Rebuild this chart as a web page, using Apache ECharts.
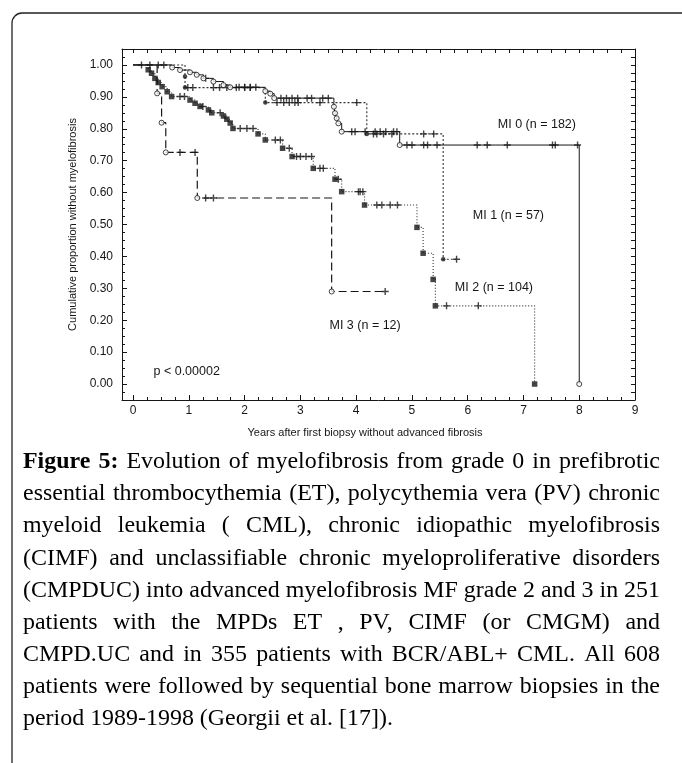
<!DOCTYPE html>
<html>
<head>
<meta charset="utf-8">
<script src="https://cdn.jsdelivr.net/npm/echarts@6/dist/echarts.min.js"></script>
<style>
html,body{margin:0;padding:0;background:#fff}
#chart{width:682px;height:763px}
</style>
</head>
<body>
<div id="chart"></div>
<script>
// Kaplan-Meier steps: event times (years) and the level after each event
var mi0EventX = [0.70, 0.84, 1.02, 1.14, 1.26, 1.44, 1.62, 1.74, 2.37, 2.46, 2.53, 3.60, 3.62, 3.65, 3.68, 3.74, 4.78, 8.00]
var mi0EventY = [0.992, 0.984, 0.977, 0.969, 0.958, 0.948, 0.937, 0.930, 0.918, 0.910, 0.896, 0.869, 0.849, 0.833, 0.817, 0.791, 0.749, 0.0]
var mi0CensorX = [0.15, 0.30, 0.45, 0.55, 1.30, 1.90, 2.00, 2.10, 2.20, 2.65, 2.75, 2.85, 2.95, 3.12, 3.20, 3.40, 3.50, 3.92, 3.98, 4.16, 4.34, 4.43, 4.53, 4.67, 4.73, 4.91, 5.00, 5.21, 5.28, 5.45, 6.17, 6.35, 6.71, 7.52, 7.57, 7.97]

var mi1EventX = [0.93, 0.93, 2.37, 4.19, 5.56]
var mi1EventY = [0.964, 0.929, 0.882, 0.784, 0.391]
var mi1CensorX = [0.98, 1.07, 1.44, 1.55, 1.68, 1.85, 2.00, 2.10, 2.58, 2.70, 2.80, 2.90, 2.96, 3.35, 4.01, 4.31, 4.37, 4.49, 4.64, 5.21, 5.39, 5.80]

var mi2EventX = [0.27, 0.33, 0.39, 0.45, 0.52, 0.61, 0.69, 1.02, 1.11, 1.20, 1.35, 1.41, 1.62, 1.68, 1.74, 1.79, 2.24, 2.37, 2.68, 2.85, 3.23, 3.62, 3.74, 4.15, 5.09, 5.20, 5.38, 5.42, 7.20]
var mi2EventY = [0.985, 0.974, 0.958, 0.945, 0.932, 0.916, 0.901, 0.890, 0.880, 0.870, 0.859, 0.850, 0.840, 0.830, 0.818, 0.801, 0.784, 0.765, 0.739, 0.713, 0.676, 0.642, 0.603, 0.561, 0.491, 0.410, 0.328, 0.245, 0.0]
var mi2CensorX = [0.84, 0.92, 1.25, 1.56, 1.92, 2.04, 2.15, 2.55, 2.64, 2.80, 2.93, 3.00, 3.10, 3.20, 3.35, 3.41, 3.68, 4.04, 4.07, 4.12, 4.37, 4.46, 4.61, 4.74, 5.62, 6.19]

var mi3EventX = [0.43, 0.51, 0.585, 1.15, 3.56]
var mi3EventY = [0.911, 0.819, 0.726, 0.583, 0.290]
var mi3CensorX = [0.84, 1.11, 1.30, 1.44, 4.52]

var xTicks = [0, 1, 2, 3, 4, 5, 6, 7, 8, 9]
var yTicks = [0, 0.1, 0.2, 0.3, 0.4, 0.5, 0.6, 0.7, 0.8, 0.9, 1.0]

var noteText = ["MI 0 (n = 182)", "MI 1 (n = 57)", "MI 2 (n = 104)", "MI 3 (n = 12)", "p < 0.00002"]
var noteX = [7.24, 6.73, 6.47, 4.16, 0.96]
var noteY = [0.812, 0.527, 0.301, 0.182, 0.038]

var caption = [
  "Figure 5: Evolution of myelofibrosis from grade 0 in prefibrotic",
  "essential thrombocythemia (ET), polycythemia vera (PV) chronic",
  "myeloid leukemia ( CML), chronic idiopathic myelofibrosis",
  "(CIMF) and unclassifiable chronic myeloproliferative disorders",
  "(CMPDUC) into advanced myelofibrosis MF grade 2 and 3 in 251",
  "patients with the MPDs ET , PV, CIMF (or CMGM) and",
  "CMPD.UC and in 355 patients with BCR/ABL+ CML. All 608",
  "patients were followed by sequential bone marrow biopsies in the",
  "period 1989-1998 (Georgii et al. [17])."
]

var ink = "#161616"
var sans = "Liberation Sans, Arial, sans-serif"
var plus = "path://M4,0L6,0L6,4L10,4L10,6L6,6L6,10L4,10L4,6L0,6L0,4L4,4Z"

function levelAt(ex, ey, x) {
  var y = 1
  for (var i = 0; i < ex.length; i++) if (ex[i] <= x) y = ey[i]
  return y
}
function stepData(ex, ey, cx) {
  var d = [[0, 1]]
  for (var i = 0; i < ex.length; i++) d.push([ex[i], ey[i]])
  var end = Math.max(ex[ex.length - 1], cx[cx.length - 1])
  d.push([end, ey[ey.length - 1]])
  return d
}
function events(ex, ey) { return ex.map(function (x, i) { return [x, ey[i]] }) }
function censors(ex, ey, cx) { return cx.map(function (x) { return [x, levelAt(ex, ey, x)] }) }
function range(a, b, step) {
  var r = []
  for (var v = a; v <= b + 1e-9; v += step) r.push(+v.toFixed(3))
  return r
}

function lineS(name, ex, ey, cx, type, width, color) {
  return {
    name: name, type: "line", step: "end", data: stepData(ex, ey, cx), showSymbol: false,
    lineStyle: {color: color, width: width, type: type}, z: 2, silent: true
  }
}
function markS(data, symbol, size, fill, z) {
  return {
    type: "scatter", data: data, symbol: symbol, symbolSize: size, z: z, silent: true,
    itemStyle: {color: fill, borderColor: ink, borderWidth: fill === "#fff" ? 1 : 0}
  }
}

var quarterX = range(0, 9, 0.25)
var minorY = range(-0.05, 1.05, 0.025)

var chart = echarts.init(document.getElementById("chart"))
var axisLineStyle = {show: true, onZero: false, lineStyle: {color: ink, width: 1}}

chart.setOption({
  animation: false,
  backgroundColor: "#fff",
  grid: {left: 122, right: 47, top: 49, bottom: 363, containLabel: false},
  xAxis: [
    {type: "value", min: -0.2, max: 9, position: "bottom",
     axisLine: axisLineStyle,
     axisTick: {show: true, inside: true, length: 5, customValues: xTicks, lineStyle: {color: ink}},
     axisLabel: {customValues: xTicks, fontSize: 12, color: ink, fontFamily: sans, margin: 5},
     splitLine: {show: false},
     name: "Years after first biopsy without advanced fibrosis", nameLocation: "middle", nameGap: 27,
     nameTextStyle: {fontSize: 11, color: ink, fontFamily: sans, padding: [0, 27, 0, 0]}},
    {type: "value", min: -0.2, max: 9, position: "bottom",
     axisLine: {show: false, onZero: false},
     axisTick: {show: true, inside: true, length: 3, customValues: quarterX, lineStyle: {color: ink}},
     axisLabel: {show: false}, splitLine: {show: false}},
    {type: "value", min: -0.2, max: 9, position: "top",
     axisLine: axisLineStyle,
     axisTick: {show: true, inside: true, length: 4, customValues: quarterX, lineStyle: {color: ink}},
     axisLabel: {show: false}, splitLine: {show: false}}
  ],
  yAxis: [
    {type: "value", min: -0.05, max: 1.05, position: "left",
     axisLine: axisLineStyle,
     axisTick: {show: true, inside: true, length: 5, customValues: yTicks, lineStyle: {color: ink}},
     axisLabel: {customValues: yTicks, fontSize: 12, color: ink, fontFamily: sans, margin: 9,
                 formatter: function (v) { return v.toFixed(2) }},
     splitLine: {show: false},
     name: "Cumulative proportion without myelofibrosis", nameLocation: "middle", nameGap: 44,
     nameTextStyle: {fontSize: 11, color: ink, fontFamily: sans}},
    {type: "value", min: -0.05, max: 1.05, position: "left",
     axisLine: {show: false, onZero: false},
     axisTick: {show: true, inside: true, length: 3, customValues: minorY, lineStyle: {color: ink}},
     axisLabel: {show: false}, splitLine: {show: false}},
    {type: "value", min: -0.05, max: 1.05, position: "right",
     axisLine: axisLineStyle,
     axisTick: {show: true, inside: true, length: 4, customValues: minorY, lineStyle: {color: ink}},
     axisLabel: {show: false}, splitLine: {show: false}}
  ],
  series: [
    lineS("MI 3", mi3EventX, mi3EventY, mi3CensorX, [8, 4], 1.2, ink),
    lineS("MI 2", mi2EventX, mi2EventY, mi2CensorX, [1, 2], 1.1, "#333"),
    lineS("MI 1", mi1EventX, mi1EventY, mi1CensorX, [2, 2], 1.1, "#333"),
    lineS("MI 0", mi0EventX, mi0EventY, mi0CensorX, "solid", 1, ink),
    markS(censors(mi3EventX, mi3EventY, mi3CensorX), plus, 7, ink, 4),
    markS(censors(mi2EventX, mi2EventY, mi2CensorX), plus, 7, ink, 4),
    markS(censors(mi1EventX, mi1EventY, mi1CensorX), plus, 7, ink, 4),
    markS(censors(mi0EventX, mi0EventY, mi0CensorX), plus, 7, ink, 4),
    markS(events(mi3EventX, mi3EventY), "circle", 5, "#fff", 5),
    markS(events(mi2EventX, mi2EventY), "rect", 5.5, ink, 5),
    markS(events(mi1EventX, mi1EventY), "circle", 4.5, ink, 5),
    markS(events(mi0EventX, mi0EventY), "circle", 5, "#fff", 5)
  ]
})

// text notes inside the plot, the outer frame and the justified caption
var g = []
g.push({type: "rect", silent: true, shape: {x: 12, y: 13, width: 720, height: 800, r: 10},
        style: {fill: "none", stroke: "#222", lineWidth: 1.3}})
noteText.forEach(function (t, i) {
  var p = chart.convertToPixel({xAxisIndex: 0, yAxisIndex: 0}, [noteX[i], noteY[i]])
  g.push({type: "text", x: p[0], y: p[1], silent: true, z: 10,
          style: {text: t, fontSize: 12.5, fontFamily: sans, fill: ink, align: "center", verticalAlign: "middle"}})
})

var capLeft = 23, capRight = 660, capTop = 462, capLead = 32.1, capSize = 24
var serif = "Liberation Serif"
var ctx = document.createElement("canvas").getContext("2d")
function wid(s, bold) {
  ctx.font = (bold ? "bold " : "") + capSize + "px \"" + serif + "\""
  return ctx.measureText(s).width
}
var lines = caption.map(function (line, i) {
  var words = line.split(" ")
  var bolds = words.map(function (w, k) { return i === 0 && k < 2 })
  var ws = words.map(function (w, k) { return wid(w, bolds[k]) })
  return {words: words, bolds: bolds, ws: ws}
})
// horizontal scale so the tightest justified line fits with plain spaces
var spaceW = wid(" ", false)
var sx = Infinity
lines.slice(0, -1).forEach(function (l) {
  var nat = l.ws.reduce(function (a, b) { return a + b }, 0) + spaceW * (l.words.length - 1)
  sx = Math.min(sx, (capRight - capLeft) / nat)
})
lines.forEach(function (l, i) {
  var ws = l.ws.map(function (w) { return w * sx })
  var total = ws.reduce(function (a, b) { return a + b }, 0)
  var gap = i < lines.length - 1 ? (capRight - capLeft - total) / (l.words.length - 1) : spaceW * sx
  var x = capLeft
  l.words.forEach(function (w, k) {
    g.push({type: "text", x: x, y: capTop + i * capLead, scaleX: sx, silent: true,
            style: {text: w, fontSize: capSize, fontFamily: serif, fontWeight: l.bolds[k] ? "bold" : "normal",
                    fill: "#000", align: "left", verticalAlign: "middle"}})
    x += ws[k] + gap
  })
})
chart.setOption({graphic: g})
</script>
</body>
</html>
